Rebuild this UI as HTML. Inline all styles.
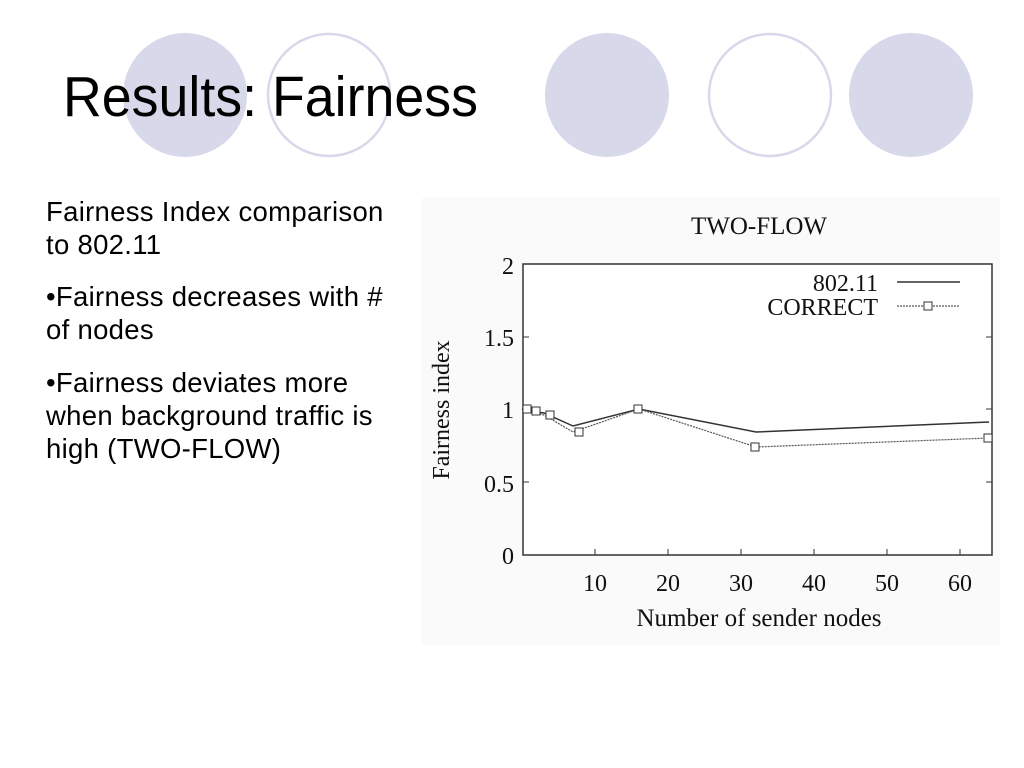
<!DOCTYPE html>
<html><head><style>
body{margin:0;width:1024px;height:768px;background:#fff;overflow:hidden;font-family:"Liberation Sans",sans-serif;}
.t{position:absolute;left:46px;font-size:27.5px;letter-spacing:0.3px;color:#000;line-height:33px;width:390px;white-space:nowrap}
</style></head><body>
<svg width="1024" height="768" style="position:absolute;left:0;top:0" font-family="Liberation Sans, sans-serif">
<circle cx="185" cy="95" r="62" fill="#d8d8eb"/>
<circle cx="329" cy="95" r="61" fill="none" stroke="#d8d8eb" stroke-width="2.5"/>
<circle cx="607" cy="95" r="62" fill="#d8d8eb"/>
<circle cx="770" cy="95" r="61" fill="none" stroke="#d8d8eb" stroke-width="2.5"/>
<circle cx="911" cy="95" r="62" fill="#d8d8eb"/>
<text x="63" y="116" font-size="57" textLength="415" lengthAdjust="spacingAndGlyphs">Results: Fairness</text>
<rect x="422" y="198" width="578" height="447" fill="#fafafa"/>
<g font-family="Liberation Serif, serif" fill="#111">
<text x="759" y="234" font-size="25" text-anchor="middle">TWO-FLOW</text>
<rect x="523" y="264" width="469" height="291" fill="#fff" stroke="#333" stroke-width="1.5"/>
<g font-size="24" text-anchor="end">
<text x="514" y="564">0</text><text x="514" y="492">0.5</text><text x="514" y="418">1</text><text x="514" y="346">1.5</text><text x="514" y="274">2</text></g>
<g stroke="#333" stroke-width="1">
<line x1="523" y1="482" x2="529" y2="482"/><line x1="523" y1="409" x2="529" y2="409"/><line x1="523" y1="337" x2="529" y2="337"/>
<line x1="986" y1="482" x2="992" y2="482"/><line x1="986" y1="409" x2="992" y2="409"/><line x1="986" y1="337" x2="992" y2="337"/>
<line x1="595" y1="555" x2="595" y2="549"/><line x1="668" y1="555" x2="668" y2="549"/><line x1="741" y1="555" x2="741" y2="549"/><line x1="814" y1="555" x2="814" y2="549"/><line x1="887" y1="555" x2="887" y2="549"/><line x1="960" y1="555" x2="960" y2="549"/>
</g>
<g font-size="24" text-anchor="middle">
<text x="595" y="591">10</text><text x="668" y="591">20</text><text x="741" y="591">30</text><text x="814" y="591">40</text><text x="887" y="591">50</text><text x="960" y="591">60</text></g>
<text x="759" y="626" font-size="25" text-anchor="middle">Number of sender nodes</text>
<text transform="translate(449,410) rotate(-90)" font-size="24" text-anchor="middle">Fairness index</text>
<text x="878" y="291" font-size="24" text-anchor="end">802.11</text>
<text x="878" y="315" font-size="24" text-anchor="end">CORRECT</text>
<line x1="897" y1="282" x2="960" y2="282" stroke="#333" stroke-width="1.5"/>
<line x1="897" y1="306" x2="960" y2="306" stroke="#555" stroke-width="1.2" stroke-dasharray="2,1"/>
<rect x="924" y="302" width="8" height="8" fill="#fff" stroke="#333"/>
<polyline fill="none" stroke="#333" stroke-width="1.5" points="522,409 529,411 544,413 573,426 639,409 756,432 989,422"/>
<polyline fill="none" stroke="#555" stroke-width="1.2" stroke-dasharray="2,1" points="522,409 529,411 544,415 573,432 639,409 756,447 989,438"/>
<g fill="#fff" stroke="#333">
<rect x="523" y="405" width="8" height="8"/><rect x="532" y="407" width="8" height="8"/><rect x="546" y="411" width="8" height="8"/><rect x="575" y="428" width="8" height="8"/><rect x="634" y="405" width="8" height="8"/><rect x="751" y="443" width="8" height="8"/><rect x="984" y="434" width="8" height="8"/></g>
</g>
</svg>
<div class="t" style="top:195px">Fairness Index comparison<br>to 802.11</div>
<div class="t" style="top:280px">•Fairness decreases with #<br>of nodes</div>
<div class="t" style="top:366px">•Fairness deviates more<br>when background traffic is<br>high (TWO-FLOW)</div>
</body></html>
